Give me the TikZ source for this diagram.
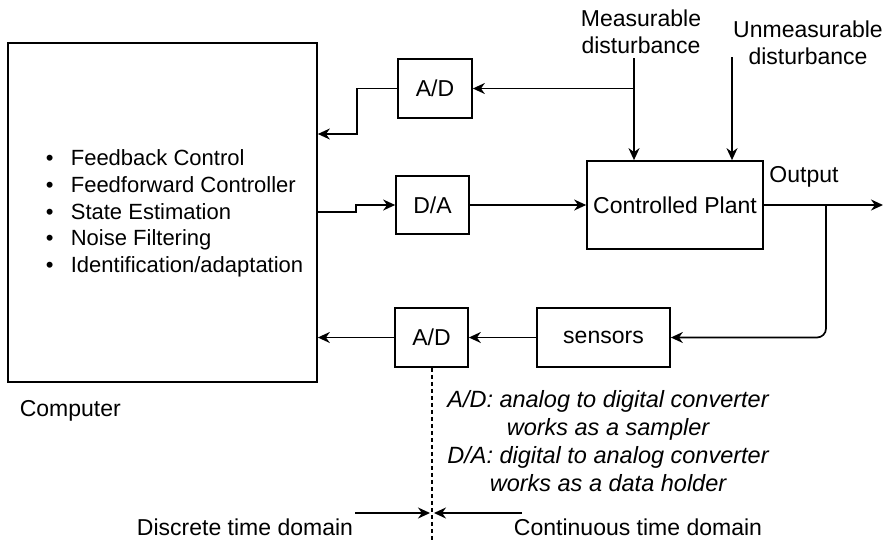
\documentclass[tikz,border=0pt]{standalone}
\usepackage{fontspec}
\setmainfont{Liberation Sans}
\usetikzlibrary{arrows.meta}
\begin{document}
\begin{tikzpicture}[x=1pt,y=-1pt,line width=1.7pt,
  blk/.style={draw,inner sep=0pt,font=\fontsize{23}{27}\selectfont},
  arr/.style={-{Stealth[length=12pt,width=11pt]}},
  lbl/.style={inner sep=0pt,align=center,font=\fontsize{23}{27}\selectfont},
  note/.style={inner sep=0pt,align=center,font=\fontsize{23.5}{28}\selectfont\itshape}]
\useasboundingbox (0,0) rectangle (885,541);
% blocks
\node[blk,minimum width=309pt,minimum height=339pt] (comp) at (162.5,212.5) {};
\node[blk,minimum width=74pt,minimum height=59pt] (adt) at (435,88.5) {A/D};
\node[blk,minimum width=73pt,minimum height=58pt] (da) at (432.5,205) {D/A};
\node[blk,minimum width=176pt,minimum height=88pt] (plant) at (675,205) {Controlled Plant};
\node[blk,minimum width=73pt,minimum height=59pt] (adb) at (431.5,337.5) {A/D};
\node[blk,minimum width=133pt,minimum height=59pt] (sens) at (603.5,337.5) {sensors};
% list inside computer
\node[inner sep=0pt,anchor=west,align=left,font=\fontsize{22}{26.75}\selectfont] (list) at (45,213.5)
 {\makebox[25pt][l]{•}Feedback Control\\
  \makebox[25pt][l]{•}Feedforward Controller\\
  \makebox[25pt][l]{•}State Estimation\\
  \makebox[25pt][l]{•}Noise Filtering\\
  \makebox[25pt][l]{•}Identification/adaptation};
% labels
\node[lbl] (mdl) at (641,31.5) {Measurable\\disturbance};
\node[lbl] (udl) at (808,42.5) {Unmeasurable\\disturbance};
\node[lbl] (outl) at (804,177) {Output};
\node[lbl,anchor=west] (compl) at (19,411) {Computer};
\node[note] (notes) at (608,441) {A/D: analog to digital converter\\works as a sampler\\D/A: digital to analog converter\\works as a data holder};
\node[lbl] (disc) at (245,527) {Discrete time domain};
\node[lbl] (cont) at (638,527) {Continuous time domain};
% coordinates
\coordinate (md) at (634,58);
\coordinate (mj) at (634,88.5);
\coordinate (ud) at (732,57);
\coordinate (c1) at (357,134);
\coordinate (c2) at (356,212);
\coordinate (out) at (883,205);
\coordinate (br) at (826,205);
\coordinate (dbot) at (432,541);
\coordinate (dl) at (355,513);
\coordinate (dlt) at (430,513);
\coordinate (dr) at (522,513);
\coordinate (drt) at (434,513);
% connectors
\draw[arr] (md) -- (md |- plant.north);
\draw[arr] (mj) -- (adt.east);
\draw[arr] (ud) -- (ud |- plant.north);
\draw[arr] (adt.west) -| (c1) -- (c1 -| comp.east);
\draw[arr] (c2 -| comp.east) -- (c2) |- (da.west);
\draw[arr] (da) -- (plant);
\draw[arr] (plant.east) -- (out);
\draw[arr,rounded corners=9pt] (br) |- (sens.east);
\draw[arr] (sens) -- (adb);
\draw[arr] (adb.west) -- (adb.west -| comp.east);
\draw[line width=1.3pt,dash pattern=on 4pt off 3pt] (adb.south -| dbot) -- (dbot);
\draw[arr] (dl) -- (dlt);
\draw[arr] (dr) -- (drt);
\end{tikzpicture}
\end{document}
